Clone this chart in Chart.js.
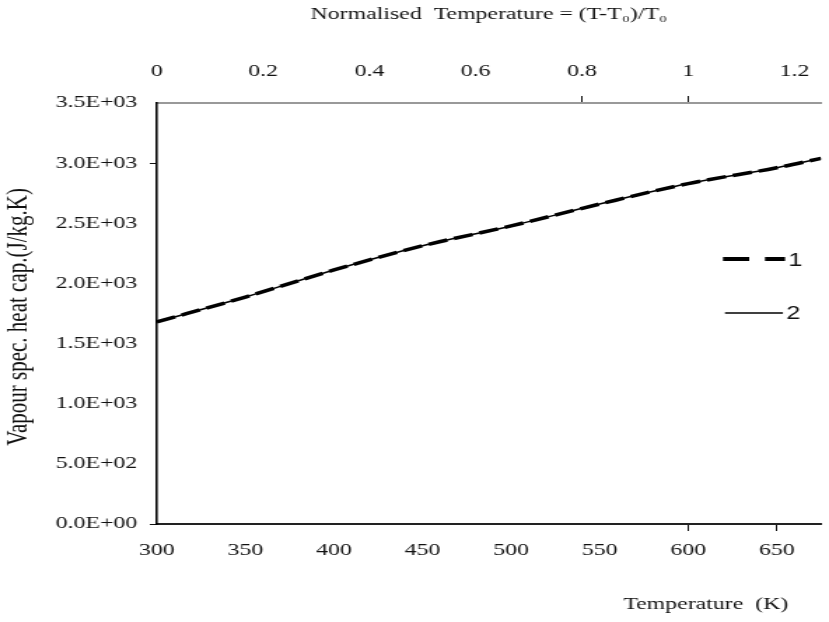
<!DOCTYPE html>
<html>
<head>
<meta charset="utf-8">
<title>Vapour specific heat capacity</title>
<script src="https://cdn.jsdelivr.net/npm/chart.js@4.4.1/dist/chart.umd.min.js"></script>
<style>
    html, body { margin: 0; padding: 0; background: #fff; overflow: hidden; }
    /* the source figure is a horizontally stretched scan, so the canvas is stretched the same way */
    #wrap { width: 592px; height: 622px; transform: scaleX(1.40034); transform-origin: 0 0; }
</style>
</head>
<body>
<div id="wrap"><canvas id="heatCapChart" width="592" height="622"></canvas></div>
<script>
// values
const temperatures = [300, 350, 400, 450, 500, 550, 600, 650, 675];
const curve1 = [1680, 1887, 2112, 2313, 2478, 2660, 2830, 2962, 3040];
const curve2 = [1680, 1887, 2112, 2313, 2478, 2660, 2830, 2962, 3040];

const T0 = 300;
const xMin = 300;
const xMax = 675;
const bottomTicks = [300, 350, 400, 450, 500, 550, 600, 650];
const topTicks = [0, 0.2, 0.4, 0.6, 0.8, 1, 1.2];
const topTickLabels = ['0', '0.2', '0.4', '0.6', '0.8', '1', '1.2'];
const yMax = 3500;
const yStep = 500;

const serif = 'Liberation Serif';

function sciLabel(v) {
    if (v === 0) return '0.0E+00';
    const e = Math.floor(Math.log10(v));
    const m = v / Math.pow(10, e);
    return m.toFixed(1) + 'E+' + String(e).padStart(2, '0');
}

function onlyTicks(list) {
    return function (ctx) {
        return ctx.tick && list.includes(ctx.tick.value) ? '#111' : 'rgba(0,0,0,0)';
    };
}

// legend, y title and bottom title drawn by hand, the figure puts them in odd places
const extrasPlugin = {
    id: 'extras',
    afterDraw(chart) {
        const c = chart.ctx;
        c.save();
        c.strokeStyle = '#000';
        c.lineCap = 'butt';

        c.lineWidth = 4;
        c.beginPath();
        c.moveTo(516.3, 259); c.lineTo(535, 259);
        c.moveTo(546.3, 259); c.lineTo(560.6, 259);
        c.stroke();

        c.lineWidth = 1.5;
        c.beginPath();
        c.moveTo(517.7, 313); c.lineTo(559.1, 313);
        c.stroke();

        c.fillStyle = '#111';
        c.font = '18px "Liberation Sans"';
        c.textAlign = 'left';
        c.textBaseline = 'middle';
        c.fillText('1', 563, 261);
        c.fillText('2', 561.5, 314);

        c.font = '17px "' + serif + '"';
        c.textAlign = 'center';
        c.fillText('Temperature  (K)', 504, 605);

        c.translate(13.5, 317);
        c.rotate(-Math.PI / 2);
        c.font = '21px "' + serif + '"';
        c.fillText('Vapour spec. heat cap.(J/kg.K)', 0, 0);
        c.restore();
    }
};

function initHeatCapChart() {
    const ctx = document.getElementById('heatCapChart');
    if (!ctx) return;

    new Chart(ctx, {
        type: 'line',
        data: {
            labels: temperatures,
            datasets: [{
                label: '1',
                data: temperatures.map((t, i) => ({ x: t, y: curve1[i] })),
                borderColor: '#000',
                borderWidth: 3.5,
                borderDash: [14, 5],
                pointRadius: 0,
                cubicInterpolationMode: 'monotone',
                xAxisID: 'x',
                yAxisID: 'y'
            }, {
                label: '2',
                data: temperatures.map((t, i) => ({ x: t, y: curve2[i] })),
                borderColor: '#000',
                borderWidth: 1.5,
                pointRadius: 0,
                cubicInterpolationMode: 'monotone',
                xAxisID: 'x',
                yAxisID: 'y'
            }]
        },
        options: {
            responsive: false,
            maintainAspectRatio: false,
            animation: false,
            layout: { padding: 0 },
            plugins: {
                legend: { display: false },
                tooltip: { enabled: false }
            },
            scales: {
                x: {
                    type: 'linear',
                    position: 'bottom',
                    min: xMin,
                    max: xMax,
                    afterBuildTicks: s => { s.ticks = bottomTicks.map(v => ({ value: v })); },
                    afterFit: s => { s.height = 98; },
                    border: { display: true, color: '#222', width: 2 },
                    grid: { drawOnChartArea: false, tickLength: 7, tickColor: onlyTicks([600, 650]) },
                    ticks: {
                        padding: 9,
                        maxRotation: 0,
                        color: '#111',
                        font: { family: serif, size: 17 },
                        callback: v => String(v)
                    }
                },
                x2: {
                    type: 'linear',
                    position: 'top',
                    min: 0,
                    max: (xMax - T0) / T0,
                    afterBuildTicks: s => { s.ticks = topTicks.map(v => ({ value: v })); },
                    afterFit: s => { s.height = 103; },
                    border: { display: true, color: '#999', width: 2 },
                    grid: { drawOnChartArea: false, tickLength: 7, tickColor: onlyTicks([0.8, 1]) },
                    title: {
                        display: true,
                        text: 'Normalised  Temperature = (T-T\u2080)/T\u2080',
                        color: '#111',
                        font: { family: serif, size: 17 },
                        padding: { top: 4, bottom: 0 }
                    },
                    ticks: {
                        padding: 14,
                        maxRotation: 0,
                        color: '#111',
                        font: { family: serif, size: 17 },
                        callback: v => topTickLabels[topTicks.indexOf(v)]
                    }
                },
                y: {
                    min: 0,
                    max: yMax,
                    afterFit: s => { s.width = 112; },
                    border: { display: true, color: '#000', width: 1.6 },
                    grid: { drawOnChartArea: false, tickLength: 5, tickColor: onlyTicks([3000, 0]) },
                    ticks: {
                        stepSize: yStep,
                        padding: 9,
                        color: '#111',
                        font: { family: serif, size: 17 },
                        callback: v => sciLabel(v)
                    }
                }
            }
        },
        plugins: [extrasPlugin]
    });
}

initHeatCapChart();
</script>
</body>
</html>
